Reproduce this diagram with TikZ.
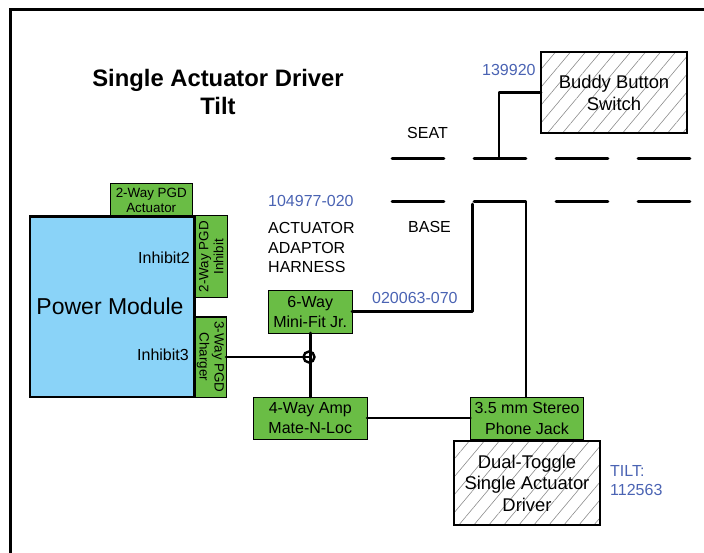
\documentclass[tikz,border=0pt]{standalone}
\usepackage{fontspec}
\setmainfont{Liberation Sans}
\usetikzlibrary{patterns.meta}
\definecolor{cgreen}{HTML}{6ABD45}
\definecolor{cblue}{HTML}{8AD3F8}
\definecolor{ctxt}{HTML}{4A63B3}
\definecolor{chatch}{HTML}{8C8C8C}
\newcommand{\fs}[2]{\fontsize{#1}{#2}\selectfont}
\tikzset{
  x=1pt,y=-1pt,
  wire/.style={line width=2.6pt,black,line cap=round,line join=round},
  conn/.style={draw=black,fill=cgreen,line width=1pt,align=center,inner sep=0,outer sep=0,font=\fs{16}{20.5}},
  smallconn/.style={draw=black,fill=cgreen,line width=1pt,align=center,inner sep=0,outer sep=0,font=\fs{13.4}{15}},
  hatched/.style={line width=0.6pt,align=center,inner sep=0,outer sep=0,
     pattern={Lines[angle=50,distance=11.5pt,line width=0.6pt]},pattern color=chatch},
  lab/.style={align=left,anchor=west,inner sep=0,font=\fs{16}{18}},
  bluelab/.style={lab,text=ctxt},
}
\newcommand{\bx}[6][conn]{\node[#1,anchor=north west,minimum width=#4pt,minimum height=#5pt] (#2) at (#3) {#6};}
\begin{document}
\begin{tikzpicture}
\useasboundingbox (0,0) rectangle (704,553);
% frame
\coordinate (fa) at (10.5,553); \coordinate (fb) at (10.5,9.5); \coordinate (fc) at (704,9.5);
\draw[line width=3pt,line join=miter] (fa) -- (fb) -- (fc);
% title
\node[align=center,font=\fs{23.8}{28}\bfseries,inner sep=0] (title) at (218,92) {Single Actuator Driver\\Tilt};
% power module
\node[draw=black,fill=cblue,line width=2.6pt,anchor=north west,minimum width=164.5pt,minimum height=180.5pt,inner sep=0,outer sep=0] (pm) at (30,216.5) {};
\node[font=\fs{23}{26},inner sep=0] (pmt) at (110,306) {Power Module};
\node[lab,anchor=east] (inh2) at (190,258) {Inhibit2};
\node[lab,anchor=east] (inh3) at (189,355) {Inhibit3};
\bx[smallconn]{act}{110,184}{82.5}{32}{2-Way PGD\\Actuator}
\node[smallconn,minimum width=81.5pt,minimum height=31.5pt,rotate=90,anchor=north west] (inh) at (195.5,297.5) {2-Way PGD\\Inhibit};
\node[smallconn,minimum width=80pt,minimum height=31pt,rotate=-90,anchor=north west] (chg) at (226,317) {3-Way PGD\\Charger};
% connectors boxes
\bx{six}{268.5,290.5}{83.5}{42.5}{6-Way\\Mini-Fit Jr.}
\bx{four}{253.5,397}{113.5}{42}{4-Way Amp\\Mate-N-Loc}
\bx{jack}{470.5,397}{113}{42.5}{3.5 mm Stereo\\Phone Jack}
% hatched
\node[hatched,anchor=north west,minimum width=146pt,minimum height=81pt,font=\fs{18.4}{22}] (bud) at (541,52) {Buddy Button\\Switch};
\draw[wire,line cap=butt,line join=miter] (bud.north west) rectangle (bud.south east);
\node[hatched,anchor=north west,minimum width=146pt,minimum height=84pt,font=\fs{18.4}{21.5}] (drv) at (454,441) {Dual-Toggle\\Single Actuator\\Driver};
\draw[wire,line cap=butt,line join=miter] (drv.north west) rectangle (drv.south east);
% labels
\node[bluelab] (l1) at (482,69.5) {139920};
\node[lab] (seat) at (407,132.5) {SEAT};
\node[lab] (base) at (408,226.5) {BASE};
\node[bluelab] (l2) at (268,200.5) {104977-020};
\node[lab,font=\fs{16}{19.5}] (har) at (268,247.5) {ACTUATOR\\ADAPTOR\\HARNESS};
\node[bluelab] (l3) at (372,298) {020063-070};
\node[bluelab,font=\fs{16}{19}] (l4) at (610,481) {TILT:\\112563};
% dashes
\foreach \n/\xa/\xb in {1/392/444,2/474/526,3/556/608,4/638/690}{
  \coordinate (sa\n) at (\xa,158.5); \coordinate (sb\n) at (\xb,158.5);
  \draw[wire] (sa\n) -- (sb\n);
}
\foreach \n/\xa/\xb in {1/392/444,3/556/608,4/638/690}{
  \coordinate (ba\n) at (\xa,201.5); \coordinate (bb\n) at (\xb,201.5);
  \draw[wire] (ba\n) -- (bb\n);
}
% wires
\coordinate (sw) at (499,158.5);
\draw[wire] (sw) |- (bud.west);
\coordinate (b2) at (474,201.5); \coordinate (b2r) at (526,201.5);
\draw[wire] (b2) -- (b2r) -- (b2r |- jack.north);
\coordinate (up) at (472.5,204);
\draw[wire] (six.east) -| (up);
\draw[wire] (four.east) -- (four.east -| jack.west);
\coordinate (sx) at (310.5,333);
\draw[wire] (sx) -- (sx |- four.north);
\coordinate (j) at (309,357);
\coordinate (cr) at (226,357);
\draw[wire] (cr) -- (j);
\node[circle,draw=black,line width=2.4pt,minimum size=11pt,inner sep=0] (dot) at (j) {};
\end{tikzpicture}
\end{document}
